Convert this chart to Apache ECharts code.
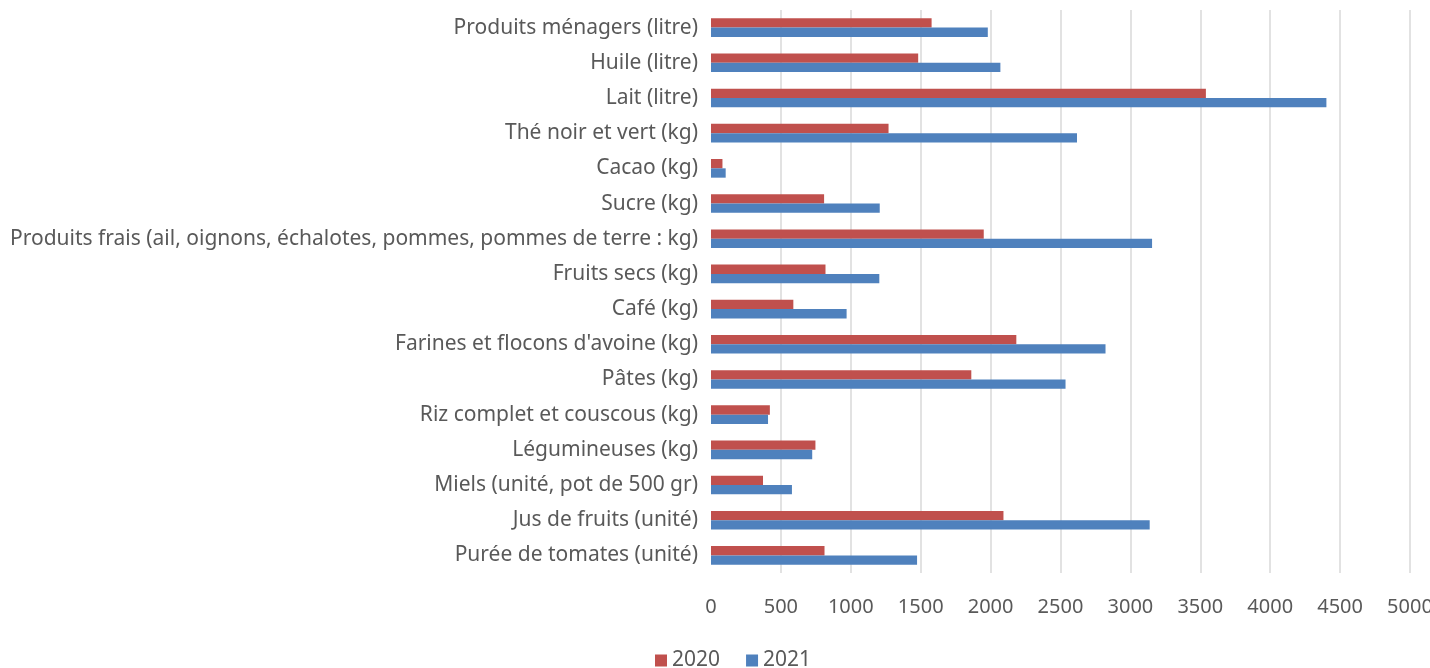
<!DOCTYPE html>
<html>
<head>
<meta charset="utf-8">
<script src="https://cdn.jsdelivr.net/npm/echarts@6/dist/echarts.min.js"></script>
<style>
    html,body{margin:0;padding:0;background:#fff;}
    #chart{width:1430px;height:668px;}
</style>
</head>
<body>
<div id="chart"></div>
<script>
// categories from bottom to top, like the original sheet
const categories = [
    'Purée de tomates (unité)',
    'Jus de fruits (unité)',
    'Miels (unité, pot de 500 gr)',
    'Légumineuses (kg)',
    'Riz complet et couscous (kg)',
    'Pâtes (kg)',
    "Farines et flocons d'avoine (kg)",
    'Café (kg)',
    'Fruits secs (kg)',
    'Produits frais (ail, oignons, échalotes, pommes, pommes de terre : kg)',
    'Sucre (kg)',
    'Cacao (kg)',
    'Thé noir et vert (kg)',
    'Lait (litre)',
    'Huile (litre)',
    'Produits ménagers (litre)'
];
const values2020 = [812, 2092, 372, 747, 421, 1862, 2184, 589, 819, 1951, 809, 82, 1270, 3540, 1482, 1578];
const values2021 = [1474, 3138, 579, 724, 408, 2536, 2822, 970, 1204, 3155, 1207, 105, 2618, 4402, 2070, 1980];
const xTicks = [0, 5000, 500]; // min, max, step

const font = "'Noto Sans', sans-serif";
const textColor = '#595959';

let chart = echarts.init(document.getElementById('chart'));
let option = {
    animation: false,
    color: ['#C0504D', '#4F81BD'],
    grid: {
        left: 711,
        right: 20,
        top: 10,
        bottom: 95,
        containLabel: false,
        outerBoundsMode: 'none'
    },
    legend: {
        data: ['2020', '2021'],
        left: 650,
        top: 645,
        icon: 'rect',
        itemWidth: 12,
        itemHeight: 12,
        itemGap: 26,
        textStyle: {
            fontFamily: font,
            fontSize: 21,
            color: textColor
        }
    },
    xAxis: {
        type: 'value',
        min: xTicks[0],
        max: xTicks[1],
        interval: xTicks[2],
        axisLine: {show: false},
        axisTick: {show: false},
        splitLine: {
            showMinLine: false,
            lineStyle: {color: '#d9d9d9', width: 1.5}
        },
        axisLabel: {
            margin: 24,
            fontFamily: font,
            fontSize: 20,
            color: textColor,
            formatter: (v) => String(v)
        }
    },
    yAxis: {
        type: 'category',
        data: categories,
        axisLine: {show: false},
        axisTick: {show: false},
        axisLabel: {
            margin: 13,
            fontFamily: font,
            fontSize: 21,
            color: textColor
        }
    },
    series: [
        {
            name: '2020',
            type: 'bar',
            data: values2020,
            barGap: '0%',
            barCategoryGap: '47%'
        },
        {
            name: '2021',
            type: 'bar',
            data: values2021,
            barGap: '0%',
            barCategoryGap: '47%'
        }
    ]
};
chart.setOption(option);
window.addEventListener('resize', () => {
    chart.resize();
});
</script>
</body>
</html>
